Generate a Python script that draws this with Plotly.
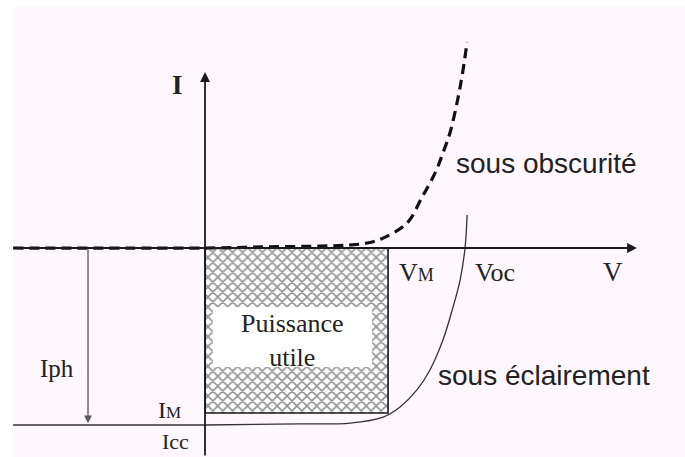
import plotly.graph_objects as go

# I-V characteristic of a photovoltaic cell (normalised units: Voc = 1, Icc = -1)
v_dark = [-0.738, 0.0, 0.223, 0.442, 0.558, 0.623, 0.685, 0.777, 0.835, 0.885, 0.915, 0.942, 0.969, 0.988, 1.008]
i_dark = [0.0, 0.0, 0.006, 0.011, 0.017, 0.028, 0.056, 0.141, 0.288, 0.424, 0.537, 0.650, 0.819, 0.966, 1.164]

v_light = [-0.738, 0.0, 0.365, 0.558, 0.685, 0.750, 0.815, 0.865, 0.915, 0.954, 0.981, 1.0, 1.008]
i_light = [-1.0, -1.0, -0.994, -0.989, -0.955, -0.898, -0.802, -0.689, -0.520, -0.333, -0.181, 0.0, 0.186]

v_m, i_m = 0.704, -0.932   # maximum power point
v_oc, i_cc = 1.0, -1.0
v_iph = -0.45              # abscissa of the photocurrent arrow

X_RANGE = [-0.7885, 1.846]
Y_RANGE = [-1.1808, 1.4011]

BG = "#FEF7FD"
INK = "#1a1a1a"
SERIF = "Liberation Serif, Times New Roman, serif"
SANS = "Liberation Sans, Arial, sans-serif"

fig = go.Figure()

# useful power rectangle, cross-hatched
fig.add_trace(go.Scatter(
    x=[0, v_m, v_m, 0, 0], y=[0, 0, i_m, i_m, 0],
    mode="lines", fill="toself", fillcolor="#ffffff",
    fillpattern=dict(shape="x", size=7, solidity=0.4, fgcolor="#262626", bgcolor="#ffffff"),
    line=dict(color=INK, width=1.6), hoverinfo="skip", showlegend=False,
))
# clear label area inside the hatching
fig.add_trace(go.Scatter(
    x=[0.03, 0.642, 0.642, 0.03, 0.03], y=[-0.333, -0.333, -0.672, -0.672, -0.333],
    mode="lines", fill="toself", fillcolor="#ffffff", line=dict(width=0),
    hoverinfo="skip", showlegend=False,
))

# illuminated curve
fig.add_trace(go.Scatter(
    x=v_light, y=i_light, mode="lines", line=dict(color="#333333", width=1.3, shape="spline"),
    hoverinfo="skip", showlegend=False,
))
# dark curve
fig.add_trace(go.Scatter(
    x=v_dark, y=i_dark, mode="lines",
    line=dict(color="#111111", width=3.2, dash="10px,6px", shape="spline"),
    hoverinfo="skip", showlegend=False,
))

annotations = []
# V axis
annotations.append(dict(x=X_RANGE[0] + (637 / 685) * (X_RANGE[1] - X_RANGE[0]), y=0,
                        ax=X_RANGE[0] + (13 / 685) * (X_RANGE[1] - X_RANGE[0]), ay=0,
                        xref="x", yref="y", axref="x", ayref="y", text="",
                        showarrow=True, arrowhead=2, arrowsize=1.1, arrowwidth=1.8, arrowcolor=INK))
# I axis
annotations.append(dict(x=0, y=0.994, ax=0, ay=Y_RANGE[0],
                        xref="x", yref="y", axref="x", ayref="y", text="",
                        showarrow=True, arrowhead=2, arrowsize=1.1, arrowwidth=1.8, arrowcolor=INK))
# photocurrent arrow
annotations.append(dict(x=v_iph, y=i_cc + 0.01, ax=v_iph, ay=0,
                        xref="x", yref="y", axref="x", ayref="y", text="",
                        showarrow=True, arrowhead=2, arrowsize=1.2, arrowwidth=1.3, arrowcolor="#555555"))

def label(text, x, y, size, family=SERIF, xanchor="center", color="#222222"):
    annotations.append(dict(x=x, y=y, text=text, xref="x", yref="y", showarrow=False,
                            xanchor=xanchor, yanchor="middle", borderpad=0,
                            font=dict(family=family, size=size, color=color)))

label("<b>I</b>", -0.104, 0.921, 27)
label("V", 1.569, -0.136, 27)
label("V<span style='font-size:18px'>M</span>", 0.812, -0.136, 26)
label("Voc", 1.115, -0.136, 26)
label("Iph", -0.569, -0.678, 25)
label("I<span style='font-size:17px'>M</span>", -0.135, -0.915, 24)
label("Icc", -0.115, -1.096, 22)
label("Puissance<br>utile", 0.335, -0.52, 26)
label("sous obscurité", 0.962, 0.480, 28, family=SANS, xanchor="left")
label("sous éclairement", 0.892, -0.718, 28, family=SANS, xanchor="left")

fig.update_layout(
    width=685, height=457,
    margin=dict(l=0, r=0, t=0, b=0),
    paper_bgcolor="#ffffff", plot_bgcolor="rgba(0,0,0,0)",
    xaxis=dict(range=X_RANGE, visible=False, fixedrange=True),
    yaxis=dict(range=Y_RANGE, visible=False, fixedrange=True),
    annotations=annotations,
    shapes=[dict(type="rect", xref="paper", yref="paper", x0=13 / 685, x1=1, y0=0, y1=1 - 7 / 457,
                 fillcolor=BG, line=dict(width=0), layer="below")],
    showlegend=False,
)

fig.write_html("out.html")
